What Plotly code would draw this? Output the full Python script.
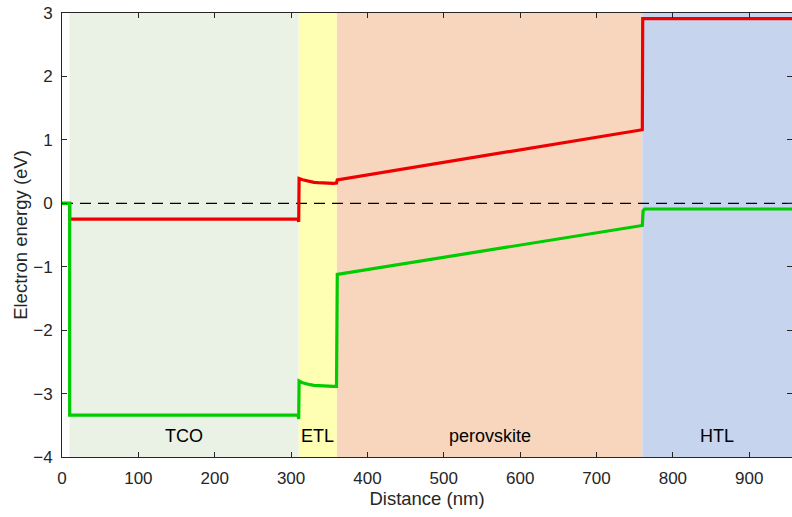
import plotly.graph_objects as go

# Layer boundaries (nm) and names
layer_names = ["TCO", "ETL", "perovskite", "HTL"]
layer_start = [10, 310, 360, 760]
layer_end = [310, 360, 760, 960]
layer_colors = ["#EAF2E6", "#FFFFB4", "#F8D6BE", "#C6D4EE"]
label_x = [160, 335, 560, 858]
label_y = -3.67

# Conduction band (red)
cb_x = [0, 10, 10, 309, 310, 310.5, 315, 320, 325, 330, 335, 340, 345, 350, 355, 359.5, 360, 360.5, 760, 760.5, 960]
cb_y = [0, 0, -0.25, -0.25, -0.29, 0.39, 0.37, 0.355, 0.34, 0.33, 0.325, 0.32, 0.315, 0.315, 0.315, 0.32, 0.37, 0.37, 1.16, 2.91, 2.91]

# Valence band (green)
vb_x = [0, 10, 10, 309, 310, 310.5, 315, 320, 325, 330, 335, 340, 345, 350, 355, 359.5, 360, 360.5, 760, 761, 763, 960]
vb_y = [0, 0, -3.34, -3.34, -3.40, -2.80, -2.83, -2.85, -2.86, -2.87, -2.875, -2.88, -2.885, -2.885, -2.885, -2.885, -1.12, -1.12, -0.35, -0.12, -0.09, -0.09]

# Fermi level reference
ef_x = [0, 960]
ef_y = [0, 0]

fig = go.Figure()

for s, e, c in zip(layer_start, layer_end, layer_colors):
    fig.add_shape(type="rect", x0=s, x1=e, y0=-4, y1=3, fillcolor=c,
                  line=dict(width=0), layer="below")

fig.add_trace(go.Scatter(x=ef_x, y=ef_y, mode="lines",
                         line=dict(color="black", width=1.2, dash="11px,7px"),
                         showlegend=False, hoverinfo="skip"))
fig.add_trace(go.Scatter(x=cb_x, y=cb_y, mode="lines",
                         line=dict(color="#EE0000", width=3.2),
                         showlegend=False))
fig.add_trace(go.Scatter(x=vb_x, y=vb_y, mode="lines",
                         line=dict(color="#00CC00", width=3.2),
                         showlegend=False))

for name, lx in zip(layer_names, label_x):
    fig.add_annotation(x=lx, y=label_y, text=name, showarrow=False,
                       font=dict(size=18, color="black"))

axis_common = dict(showline=True, linecolor="#262626", linewidth=1, mirror="ticks",
                   ticks="inside", ticklen=5, tickcolor="#262626", showgrid=False,
                   zeroline=False, tickfont=dict(size=17, color="#262626"))

fig.update_xaxes(range=[0, 956], tickvals=[0, 100, 200, 300, 400, 500, 600, 700, 800, 900],
                 ticklabelstandoff=6,
                 title=dict(text="Distance (nm)", font=dict(size=18.5, color="#262626"), standoff=4),
                 **axis_common)
fig.update_yaxes(range=[-4, 3], tickvals=[-4, -3, -2, -1, 0, 1, 2, 3],
                 ticklabelstandoff=5,
                 title=dict(text="Electron energy (eV)", font=dict(size=18.5, color="#262626"), standoff=0),
                 **axis_common)

fig.update_layout(width=792, height=517,
                  margin=dict(l=62, r=0, t=13, b=60),
                  plot_bgcolor="white", paper_bgcolor="white",
                  font=dict(family="Liberation Sans, Arial, sans-serif"))

fig.write_html("out.html")
